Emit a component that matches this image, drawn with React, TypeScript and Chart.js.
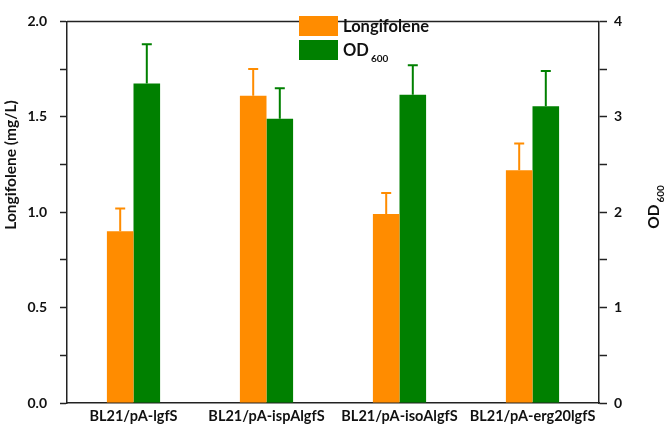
import React, { useEffect, useRef } from "react";
import { Chart, registerables } from "chart.js";

Chart.register(...registerables);

const categories = ["BL21/pA-lgfS", "BL21/pA-ispAlgfS", "BL21/pA-isoAlgfS", "BL21/pA-erg20lgfS"];
const longifolene = [0.9, 1.61, 0.99, 1.22];
const longifoleneErr = [0.12, 0.14, 0.11, 0.14];
const od600 = [3.35, 2.98, 3.23, 3.11];
const od600Err = [0.41, 0.32, 0.31, 0.37];
const leftTicks = [0, 0.5, 1.0, 1.5, 2.0];
const rightTicks = [0, 1, 2, 3, 4];

const ORANGE = "#FF8C00";
const GREEN = "#008000";
const FONT = "Lato, 'Open Sans', sans-serif";
const TEXT = "#111";

const errorBarPlugin = {
  id: "errorBars",
  afterDatasetsDraw(chart: any) {
    const ctx = chart.ctx;
    chart.data.datasets.forEach((ds: any, i: number) => {
      const meta = chart.getDatasetMeta(i);
      const scale = chart.scales[ds.yAxisID];
      meta.data.forEach((el: any, j: number) => {
        const top = scale.getPixelForValue(ds.data[j] + ds.errors[j]);
        ctx.save();
        ctx.strokeStyle = ds.backgroundColor;
        ctx.lineWidth = 2;
        ctx.beginPath();
        ctx.moveTo(el.x, el.y);
        ctx.lineTo(el.x, top);
        ctx.moveTo(el.x - 5, top);
        ctx.lineTo(el.x + 5, top);
        ctx.stroke();
        ctx.restore();
      });
    });
  },
};

const decorPlugin = {
  id: "decor",
  afterDraw(chart: any) {
    const ctx = chart.ctx;
    const a = chart.chartArea;
    ctx.save();
    // top border
    ctx.strokeStyle = "#222";
    ctx.lineWidth = 1.5;
    ctx.beginPath();
    ctx.moveTo(a.left, a.top);
    ctx.lineTo(a.right, a.top);
    ctx.stroke();

    // legend
    ctx.fillStyle = ORANGE;
    ctx.fillRect(299, 16, 39, 20);
    ctx.fillStyle = GREEN;
    ctx.fillRect(299, 40, 39, 20);
    ctx.fillStyle = TEXT;
    ctx.textBaseline = "alphabetic";
    ctx.textAlign = "left";
    ctx.font = `bold 16.5px ${FONT}`;
    ctx.fillText("Longifolene", 343, 32);
    ctx.fillText("OD", 343, 56);
    const odW = ctx.measureText("OD").width;
    ctx.font = `bold 10px ${FONT}`;
    ctx.fillText("600", 343 + odW + 2, 62);

    // left title
    ctx.save();
    ctx.translate(16, 165);
    ctx.rotate(-Math.PI / 2);
    ctx.textAlign = "center";
    ctx.font = `bold 15.5px ${FONT}`;
    ctx.fillText("Longifolene (mg/L)", 0, 0);
    ctx.restore();

    // right title
    ctx.save();
    ctx.translate(659, 207);
    ctx.rotate(-Math.PI / 2);
    ctx.textAlign = "left";
    ctx.font = `bold 15.5px ${FONT}`;
    const w1 = ctx.measureText("OD").width;
    ctx.font = `bold 10px ${FONT}`;
    const w2 = ctx.measureText("600").width;
    const start = -(w1 + w2 + 2) / 2;
    ctx.font = `bold 15.5px ${FONT}`;
    ctx.fillText("OD", start, 0);
    ctx.font = `bold 10px ${FONT}`;
    ctx.fillText("600", start + w1 + 2, 5);
    ctx.restore();
    ctx.restore();
  },
};

export default function App() {
  const ref = useRef<HTMLCanvasElement>(null);
  useEffect(() => {
    document.body.style.margin = "0";
    const chart = new Chart(ref.current!, {
      type: "bar",
      data: {
        labels: categories,
        datasets: [
          {
            label: "Longifolene",
            data: longifolene,
            errors: longifoleneErr,
            backgroundColor: ORANGE,
            yAxisID: "y",
            categoryPercentage: 0.4,
            barPercentage: 1,
          } as any,
          {
            label: "OD600",
            data: od600,
            errors: od600Err,
            backgroundColor: GREEN,
            yAxisID: "y2",
            categoryPercentage: 0.4,
            barPercentage: 1,
          } as any,
        ],
      },
      options: {
        responsive: false,
        animation: false,
        layout: { padding: { top: 7, left: 0, right: 0, bottom: 0 } },
        plugins: { legend: { display: false }, tooltip: { enabled: false } },
        scales: {
          x: {
            grid: { display: false, drawTicks: false },
            border: { display: true, color: "#222", width: 1.5 },
            ticks: { color: TEXT, font: { family: FONT, size: 14.5, weight: "bold" }, padding: 5 },
            afterFit: (s: any) => { s.height = 29; },
          },
          y: {
            position: "left",
            min: 0,
            max: 2,
            grid: { drawOnChartArea: false, drawTicks: true, tickLength: 7, tickColor: "#222", tickWidth: 1.5 },
            border: { display: true, color: "#222", width: 1.5 },
            ticks: {
              stepSize: 0.25,
              color: TEXT,
              padding: 13,
              font: { family: FONT, size: 14, weight: "bold" },
              callback: (v: any) => (leftTicks.some((t) => Math.abs(t - v) < 1e-6) ? Number(v).toFixed(1) : ""),
            },
            afterFit: (s: any) => { s.width = 67; },
          },
          y2: {
            position: "right",
            min: 0,
            max: 4,
            grid: { drawOnChartArea: false, drawTicks: true, tickLength: 8, tickColor: "#222", tickWidth: 1.5 },
            border: { display: true, color: "#222", width: 1.5 },
            ticks: {
              stepSize: 0.5,
              color: TEXT,
              padding: 7,
              font: { family: FONT, size: 14, weight: "bold" },
              callback: (v: any) => (rightTicks.some((t) => Math.abs(t - v) < 1e-6) ? String(v) : ""),
            },
            afterFit: (s: any) => { s.width = 67; },
          },
        },
      } as any,
      plugins: [errorBarPlugin, decorPlugin],
    });
    return () => chart.destroy();
  }, []);
  return (
    <div style={{ width: 666, height: 432 }}>
      <canvas ref={ref} width={666} height={432} />
    </div>
  );
}
